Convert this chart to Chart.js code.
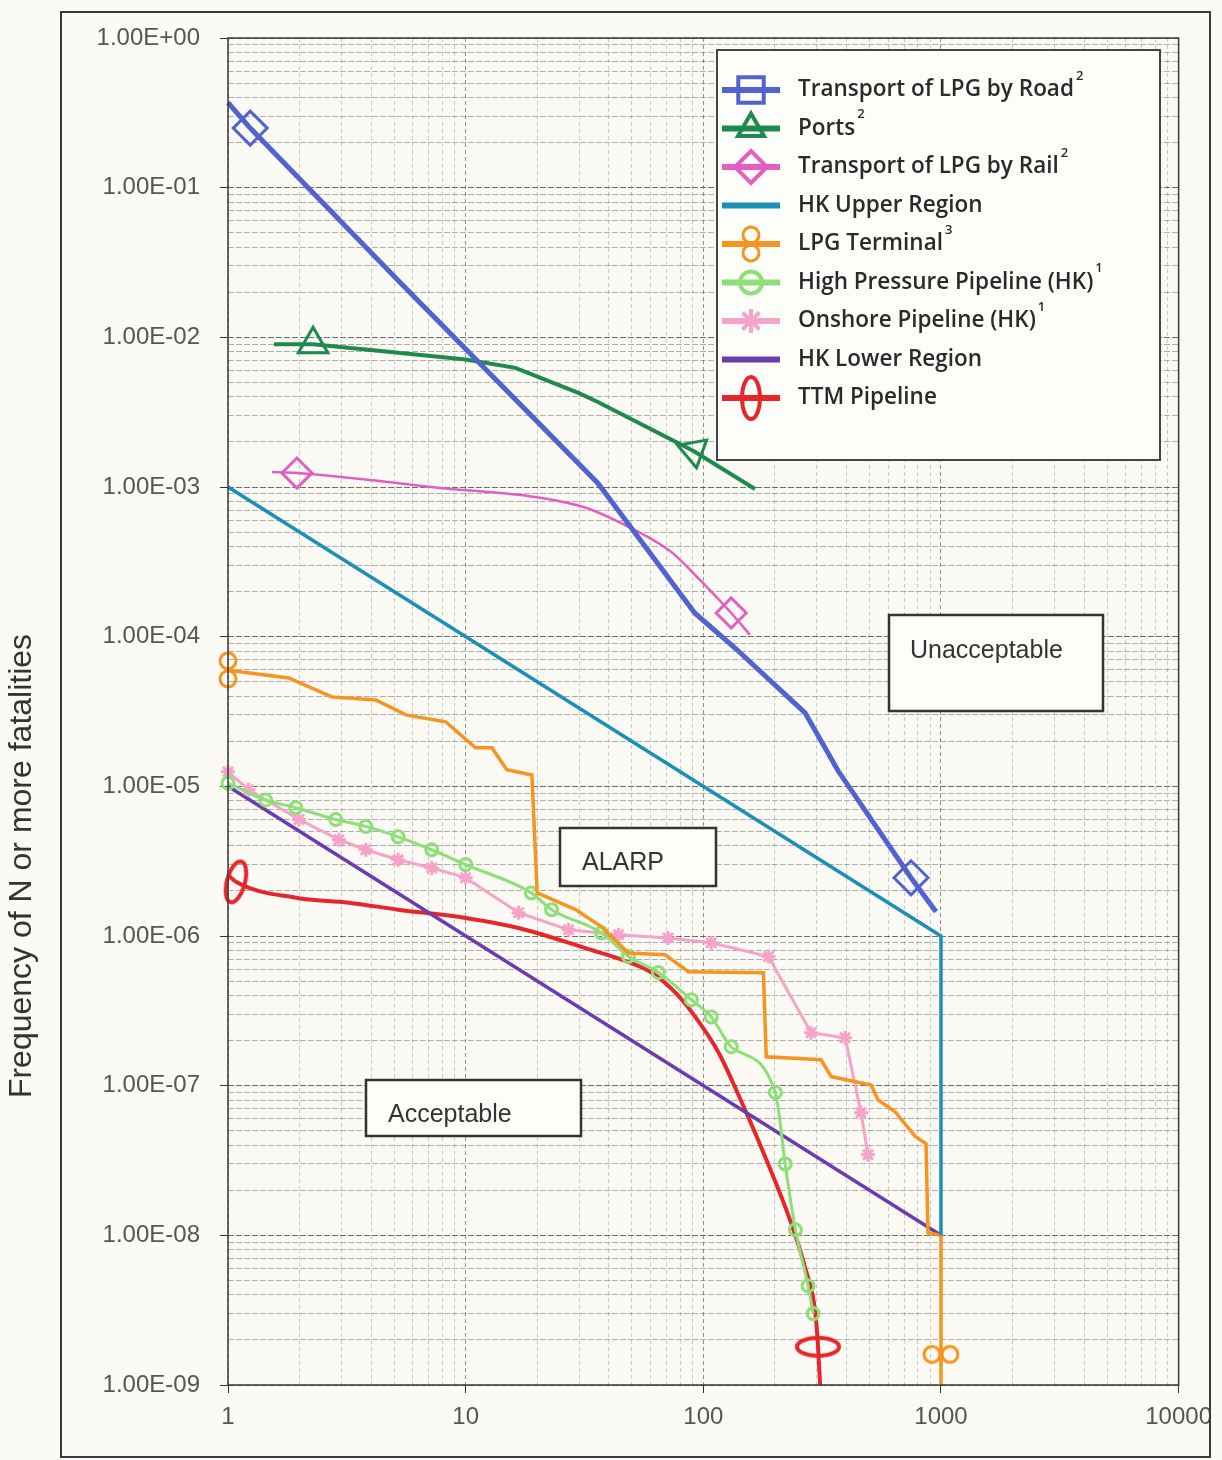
<!DOCTYPE html>
<html>
<head>
<meta charset="utf-8">
<title>F-N curves</title>
<script src="https://cdn.jsdelivr.net/npm/chart.js@4.4.1/dist/chart.umd.min.js"></script>
<style>
  html, body { margin: 0; padding: 0; background: #fbfaf4; }
  #wrap { width: 1222px; height: 1460px; }
</style>
</head>
<body>
<div id="wrap"><canvas id="fnChart" width="1222" height="1460"></canvas></div>
<script>
// axis text
const xTickLabels = ['1', '10', '100', '1000', '10000'];
const yTickLabels = ['1.00E-09', '1.00E-08', '1.00E-07', '1.00E-06', '1.00E-05',
                     '1.00E-04', '1.00E-03', '1.00E-02', '1.00E-01', '1.00E+00'];
const yTitle = 'Frequency of N or more fatalities';

// legend names and their footnote numbers
const seriesNames = ['Transport of LPG by Road', 'Ports', 'Transport of LPG by Rail', 'HK Upper Region',
                     'LPG Terminal', 'High Pressure Pipeline (HK)', 'Onshore Pipeline (HK)', 'HK Lower Region', 'TTM Pipeline'];
const seriesNotes = ['2', '2', '2', '', '3', '1', '1', '', ''];

// N (fatalities) and F (frequency per year) for each curve
const roadN = [1, 1.24, 5.2, 36, 45, 92, 136, 268, 369, 748, 953];
const roadF = [0.37, 0.25, 0.024, 1.06e-3, 6.6e-4, 1.44e-4, 8.4e-5, 3.1e-5, 1.27e-5, 2.45e-6, 1.45e-6];

const portsN = [1.56, 2.28, 5.2, 10, 16.2, 29.8, 36, 91, 165];
const portsF = [9.0e-3, 9.0e-3, 7.9e-3, 7.1e-3, 6.25e-3, 4.25e-3, 3.7e-3, 1.74e-3, 9.7e-4];

const railN = [1.53, 1.95, 7.2, 30, 45, 73, 92, 131, 157];
const railF = [1.26e-3, 1.24e-3, 1.0e-3, 7.5e-4, 5.75e-4, 3.7e-4, 2.6e-4, 1.44e-4, 1.03e-4];

const upperN = [1, 1000, 1000];
const upperF = [1e-3, 1e-6, 1e-8];

const terminalN = [1, 1.14, 1.8, 2.73, 4.19, 5.6, 8.24, 11.0, 12.9, 14.9, 19.0, 20.0, 29, 37.3, 48.4,
                   69, 86.5, 179, 184, 313, 345, 508, 543, 641, 778, 865, 882, 1000, 1000, 1000];
const terminalF = [6.0e-5, 5.8e-5, 5.3e-5, 3.96e-5, 3.78e-5, 3.0e-5, 2.7e-5, 1.81e-5, 1.81e-5, 1.29e-5,
                   1.19e-5, 1.94e-6, 1.5e-6, 1.15e-6, 7.7e-7, 7.5e-7, 5.77e-7, 5.68e-7, 1.56e-7, 1.49e-7,
                   1.15e-7, 1.01e-7, 8.05e-8, 6.7e-8, 4.6e-8, 4.1e-8, 1.04e-8, 1.0e-8, 1.6e-9, 1e-9];

const hpN = [1, 1.44, 1.93, 2.84, 3.8, 5.2, 7.2, 10, 18.9, 23, 37.3, 48.4, 64.7, 89, 108, 131, 201, 221, 244, 276, 290];
const hpF = [1.05e-5, 8.1e-6, 7.2e-6, 6.0e-6, 5.4e-6, 4.6e-6, 3.77e-6, 3.0e-6, 1.94e-6, 1.5e-6, 1.05e-6,
             7.3e-7, 5.7e-7, 3.75e-7, 2.88e-7, 1.82e-7, 9.0e-8, 3.0e-8, 1.09e-8, 4.6e-9, 3.0e-9];

const onshoreN = [1, 1.22, 1.99, 2.93, 3.8, 5.2, 7.2, 10, 16.7, 27.1, 44, 71, 108, 188, 284, 395, 461, 493];
const onshoreF = [1.25e-5, 9.5e-6, 6.0e-6, 4.4e-6, 3.77e-6, 3.23e-6, 2.85e-6, 2.45e-6, 1.43e-6, 1.1e-6,
                  1.02e-6, 9.7e-7, 9.0e-7, 7.3e-7, 2.26e-7, 2.09e-7, 6.6e-8, 3.45e-8];

const lowerN = [1, 1000];
const lowerF = [1e-5, 1e-8];

const ttmN = [1, 1.08, 1.93, 3.22, 5.2, 10, 16.7, 31.9, 48.4, 60.5, 76.3, 92.5, 116, 140, 182, 234, 268, 296, 304, 310];
const ttmF = [2.56e-6, 2.3e-6, 1.8e-6, 1.67e-6, 1.5e-6, 1.32e-6, 1.13e-6, 8.3e-7, 6.7e-7, 5.7e-7, 4.18e-7,
              2.88e-7, 1.66e-7, 8.8e-8, 3.35e-8, 1.21e-8, 6.1e-9, 3.04e-9, 1.8e-9, 1e-9];

function pairs(ns, fs) {
    return ns.map((n, i) => ({ x: n, y: fs[i] }));
}

function isDecade(v) {
    const e = Math.round(Math.log10(v));
    return Math.abs(v - Math.pow(10, e)) < Math.pow(10, e) * 1e-6;
}

function logTicks(minExp, maxExp) {
    const ticks = [];
    for (let e = minExp; e < maxExp; e++) {
        for (let m = 1; m < 10; m++) {
            ticks.push({ value: Number((m * Math.pow(10, e)).toPrecision(3)), major: m === 1 });
        }
    }
    ticks.push({ value: Math.pow(10, maxExp), major: true });
    return ticks;
}

// marker images that Chart.js has no built-in style for
function figureEight(color) {
    const c = document.createElement('canvas');
    c.width = 22; c.height = 38;
    const g = c.getContext('2d');
    g.strokeStyle = color; g.lineWidth = 3;
    g.beginPath(); g.arc(11, 10, 8, 0, Math.PI * 2); g.stroke();
    g.beginPath(); g.arc(11, 28, 8, 0, Math.PI * 2); g.stroke();
    return c;
}

function tallEllipse(color) {
    const c = document.createElement('canvas');
    c.width = 26; c.height = 50;
    const g = c.getContext('2d');
    g.strokeStyle = color; g.lineWidth = 4;
    g.beginPath(); g.ellipse(13, 25, 9, 21, 0, 0, Math.PI * 2); g.stroke();
    return c;
}

const colors = {
    road: '#5163cf', ports: '#1f8a4d', rail: '#e25ec2', upper: '#1b8fb6', terminal: '#f7941e',
    hp: '#8ddf78', onshore: '#f5a3c9', lower: '#6b3cae', ttm: '#e7262b'
};

const eightImg = figureEight(colors.terminal);
const ellipseImg = tallEllipse(colors.ttm);

// marks only at chosen points of a curve
function marks(idx, radius, style, rotations) {
    return {
        pointRadius: ctx => idx.includes(ctx.dataIndex) ? radius : 0,
        pointHoverRadius: 0,
        pointStyle: style,
        pointRotation: ctx => rotations ? (rotations[idx.indexOf(ctx.dataIndex)] || 0) : 0,
        pointBackgroundColor: 'rgba(0,0,0,0)',
        pointBorderWidth: 3
    };
}

const ctx = document.getElementById('fnChart').getContext('2d');

const paperPlugin = {
    id: 'paper',
    beforeDraw(chart) {
        const c = chart.ctx;
        c.save();
        c.fillStyle = '#fbfaf4';
        c.fillRect(0, 0, chart.width, chart.height);
        c.restore();
    },
    afterDraw(chart) {
        const c = chart.ctx;
        const a = chart.chartArea;
        c.save();
        c.strokeStyle = '#3a3a3a';
        c.lineWidth = 2;
        c.strokeRect(61, 12, 1149, 1445);
        c.lineWidth = 1.5;
        c.strokeRect(a.left, a.top, a.right - a.left, a.bottom - a.top);

        // axis title, sitting lower than the axis middle as in the original
        c.save();
        c.translate(22, 866);
        c.rotate(-Math.PI / 2);
        c.fillStyle = '#333';
        c.font = '32px "Liberation Sans", Arial, sans-serif';
        c.textAlign = 'center';
        c.textBaseline = 'middle';
        c.fillText(yTitle, 0, 0);
        c.restore();

        // region labels
        const boxes = [
            { text: 'Unacceptable', x: 889, y: 615, w: 214, h: 96, tx: 910, ty: 651 },
            { text: 'ALARP', x: 560, y: 828, w: 156, h: 58, tx: 582, ty: 863 },
            { text: 'Acceptable', x: 366, y: 1080, w: 215, h: 56, tx: 388, ty: 1115 }
        ];
        c.font = '25px "Liberation Sans", Arial, sans-serif';
        c.textBaseline = 'middle';
        boxes.forEach(b => {
            c.fillStyle = '#fdfdfa';
            c.fillRect(b.x, b.y, b.w, b.h);
            c.strokeStyle = '#333';
            c.lineWidth = 2.5;
            c.strokeRect(b.x, b.y, b.w, b.h);
            c.fillStyle = '#333';
            c.fillText(b.text, b.tx, b.ty);
        });

        // legend
        c.fillStyle = '#fdfdfa';
        c.fillRect(717, 50, 443, 410);
        c.strokeStyle = '#444';
        c.lineWidth = 2;
        c.strokeRect(717, 50, 443, 410);
        const legendMarks = [
            { style: 'rect', r: 18 }, { style: 'triangle', r: 15 }, { style: 'rectRot', r: 16 }, null,
            { style: eightImg, r: 10 }, { style: 'circle', r: 11 }, { style: 'star', r: 12 }, null,
            { style: ellipseImg, r: 10 }
        ];
        chart.data.datasets.forEach((ds, i) => {
            const y = 90 + i * 38.5;
            c.strokeStyle = ds.borderColor;
            c.lineWidth = 6;
            c.setLineDash([]);
            c.beginPath(); c.moveTo(722, y); c.lineTo(780, y); c.stroke();
            const m = legendMarks[i];
            if (m) {
                c.lineWidth = 4;
                c.fillStyle = 'rgba(0,0,0,0)';
                Chart.helpers.drawPoint(c, { pointStyle: m.style, radius: m.r, rotation: 0, borderWidth: 4 }, 751, y);
            }
            c.fillStyle = '#2a2a2a';
            c.font = '600 22.5px "Open Sans", sans-serif';
            c.textBaseline = 'middle';
            c.fillText(seriesNames[i], 798, y);
            if (seriesNotes[i]) {
                const w = c.measureText(seriesNames[i]).width;
                c.font = '600 13px "Open Sans", sans-serif';
                c.fillText(seriesNotes[i], 798 + w + 2, y - 14);
            }
        });
        c.restore();
    }
};

const fnChart = new Chart(ctx, {
    type: 'line',
    data: {
        datasets: [
            { data: pairs(roadN, roadF), borderColor: colors.road, borderWidth: 5, ...marks([1, 9], 17, 'rectRot') },
            { data: pairs(portsN, portsF), borderColor: colors.ports, borderWidth: 4, ...marks([1, 7], 17, 'triangle', [0, -70]) },
            { data: pairs(railN, railF), borderColor: colors.rail, borderWidth: 2.5, cubicInterpolationMode: 'monotone', ...marks([1, 7], 15, 'rectRot') },
            { data: pairs(upperN, upperF), borderColor: colors.upper, borderWidth: 3.5, pointRadius: 0 },
            { data: pairs(terminalN, terminalF), borderColor: colors.terminal, borderWidth: 3.5, ...marks([0, 28], 10, eightImg, [0, 90]) },
            { data: pairs(hpN, hpF), borderColor: colors.hp, borderWidth: 3, cubicInterpolationMode: 'monotone', ...marks(hpN.map((v, i) => i), 6, 'circle') },
            { data: pairs(onshoreN, onshoreF), borderColor: colors.onshore, borderWidth: 3, ...marks(onshoreN.map((v, i) => i), 7, 'star') },
            { data: pairs(lowerN, lowerF), borderColor: colors.lower, borderWidth: 3.5, pointRadius: 0 },
            { data: pairs(ttmN, ttmF), borderColor: colors.ttm, borderWidth: 4, cubicInterpolationMode: 'monotone', ...marks([1, 18], 10, ellipseImg, [15, 90]) }
        ].map((ds, i) => ({ label: seriesNames[i], fill: false, clip: false, ...ds }))
    },
    options: {
        responsive: false,
        animation: false,
        layout: { padding: { top: 38, right: 42, left: 0, bottom: 0 } },
        plugins: {
            legend: { display: false },
            tooltip: { enabled: false }
        },
        scales: {
            x: {
                type: 'logarithmic',
                min: 1,
                max: 10000,
                afterBuildTicks: scale => { scale.ticks = logTicks(0, 4); },
                afterFit: scale => { scale.height = 75; },
                border: { display: false, dash: [4, 3] },
                grid: {
                    color: c => c.tick && isDecade(c.tick.value) ? 'rgba(60,60,60,0.55)' : 'rgba(90,90,90,0.3)',
                    tickColor: c => c.tick && isDecade(c.tick.value) ? '#333' : 'rgba(0,0,0,0)',
                    tickLength: 8
                },
                ticks: {
                    autoSkip: false,
                    maxRotation: 0,
                    padding: 10,
                    color: '#555',
                    font: { family: '"Liberation Sans", Arial, sans-serif', size: 24 },
                    callback: v => isDecade(v) ? xTickLabels[Math.round(Math.log10(v))] : ''
                }
            },
            y: {
                type: 'logarithmic',
                min: 1e-9,
                max: 1,
                afterBuildTicks: scale => { scale.ticks = logTicks(-9, 0); },
                afterFit: scale => { scale.width = 228; },
                border: { display: false, dash: [6, 2] },
                grid: {
                    color: c => c.tick && isDecade(c.tick.value) ? 'rgba(50,50,50,0.7)' : 'rgba(70,70,70,0.42)',
                    tickColor: c => c.tick && isDecade(c.tick.value) ? '#333' : 'rgba(0,0,0,0)',
                    tickLength: 8
                },
                ticks: {
                    autoSkip: false,
                    padding: 20,
                    color: '#555',
                    font: { family: '"Liberation Sans", Arial, sans-serif', size: 24 },
                    callback: v => isDecade(v) ? yTickLabels[Math.round(Math.log10(v)) + 9] : ''
                }
            }
        }
    },
    plugins: [paperPlugin]
});
</script>
</body>
</html>
